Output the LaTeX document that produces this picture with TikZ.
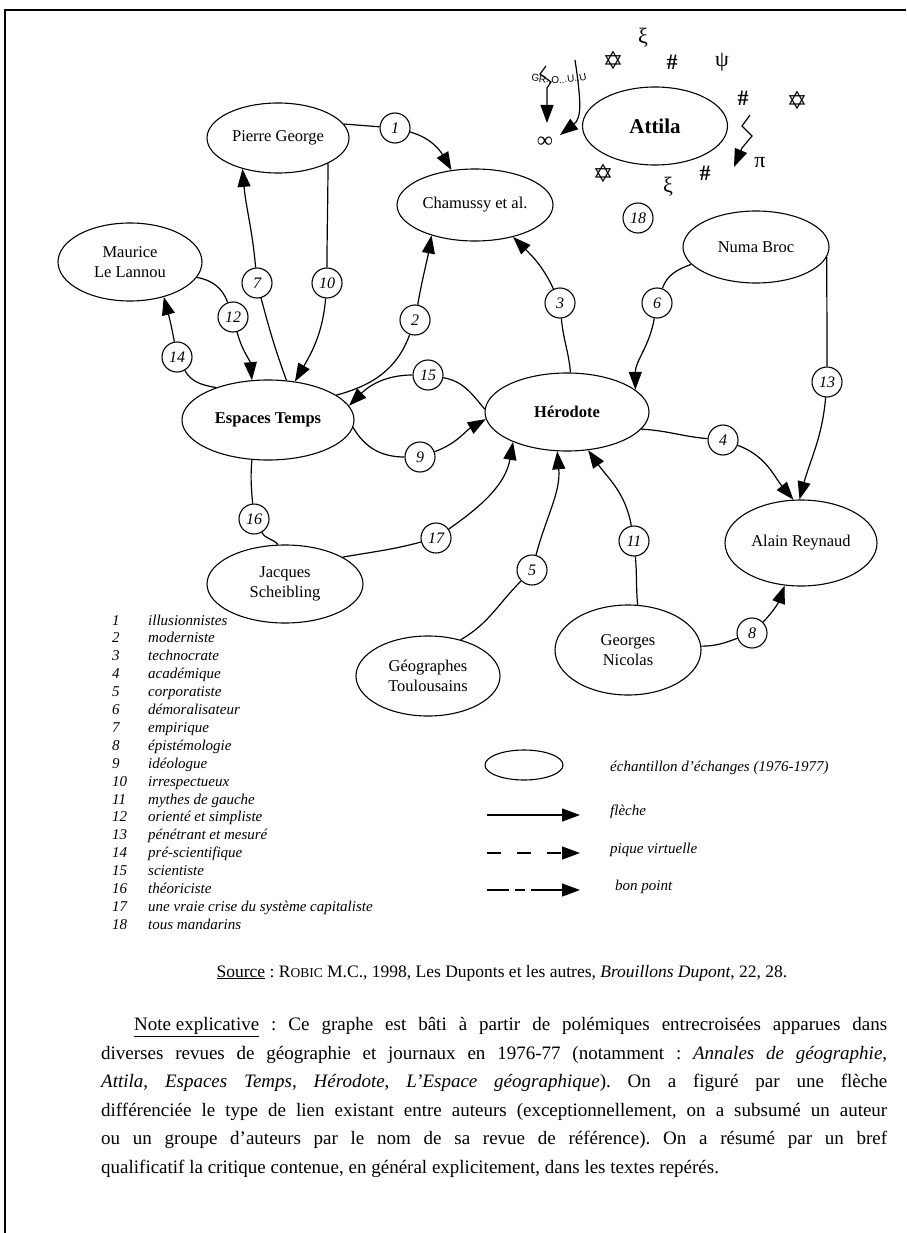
\documentclass[tikz,border=0pt]{standalone}
\usepackage{fontspec}
\setmainfont{Liberation Serif}
\newfontfamily\symfont{DejaVu Sans}
\newfontfamily\grfont{Liberation Sans}
\usetikzlibrary{
  arrows.meta,
  shapes.geometric,
  decorations.text
}
\frenchspacing
\tikzset{
  auteur/.style={
    ellipse,
    draw,
    line width=1.1pt,
    inner sep=0pt,
    align=center,
    font=\fontsize{16.5}{19.5}\selectfont
  },
  revue/.style={
    auteur,
    font=\fontsize{16.5}{19.5}\selectfont\bfseries
  },
  critique/.style={
    circle,
    draw,
    line width=1.1pt,
    minimum size=30pt,
    inner sep=0pt,
    font=\fontsize{16}{16}\selectfont\itshape
  },
  lien/.style={line width=1.2pt},
  symb/.style={inner sep=0pt, font=\fontsize{22}{22}\selectfont},
  legende/.style={
    inner sep=0pt,
    anchor=base west,
    font=\fontsize{15}{17}\selectfont\itshape
  }
}

\begin{document}
\begin{tikzpicture}[
      x=1pt, y=1pt,
      >={Triangle[length=18pt,width=13pt]}
      ]
      \useasboundingbox (0,0) rectangle (906,-1233);
      \draw[line width=2pt] (5,-1233) -- (5,-10) -- (906,-10);

      % auteurs et revues
      \node[auteur, minimum width=142pt, minimum height=70pt] (pg) at (278,-138) {Pierre George};
      \node[auteur, minimum width=156pt, minimum height=72pt] (cham) at (475,-205) {Chamussy et al.};
      \node[auteur, minimum width=144pt, minimum height=78pt] (mll) at (130,-262) {Maurice\\Le Lannou};
      \node[revue, minimum width=172pt, minimum height=80pt] (et) at (268,-420) {Espaces Temps};
      \node[revue, minimum width=164pt, minimum height=78pt] (hero) at (567,-412) {Hérodote};
      \node[auteur, minimum width=146pt, minimum height=72pt] (numa) at (756,-247) {Numa Broc};
      \node[auteur, minimum width=152pt, minimum height=86pt] (alain) at (801,-543) {Alain Reynaud};
      \node[auteur, minimum width=146pt, minimum height=90pt] (gn) at (628,-650) {Georges\\Nicolas};
      \node[auteur, minimum width=156pt, minimum height=78pt] (js) at (285,-584) {Jacques\\Scheibling};
      \node[auteur, minimum width=144pt, minimum height=80pt] (gt) at (428,-676) {Géographes\\Toulousains};
      \node[revue, minimum width=145pt, minimum height=78pt,
        font=\fontsize{21}{21}\selectfont\bfseries] (attila) at (655,-126) {Attila};

      % qualificatifs
      \foreach \n/\x/\y in {1/395/-128, 2/415/-320, 3/560/-303, 4/723/-440,
          5/532/-570, 6/657/-303, 7/257/-283, 8/752/-633, 9/420/-457,
          10/327/-283, 11/634/-541, 12/233/-317, 13/827/-382, 14/177/-357,
          15/428/-375, 16/254/-519, 17/436/-538, 18/638/-218}{
        \node[critique] (c\n) at (\x,\y) {\n};
      }

      \draw[lien] (pg.12) -- (c1);
      \draw[lien,->] (c1) to[out=-15,in=120] (cham.124);
      \draw[lien] (et.20) to[out=15,in=-110] (c2);
      \draw[lien,->] (c2) to[out=80,in=-100] (cham.215);
      \draw[lien] (hero.85) to[out=95,in=-85] (c3);
      \draw[lien,->] (c3) to[out=115,in=-45] (cham.-40);
      \draw[lien] (hero.-13) to[out=-3,in=175] (c4);
      \draw[lien,->] (c4) to[out=-20,in=130] (alain.100);
      \draw[lien] (gt.48) to[out=30,in=-135] (c5);
      \draw[lien,->] (c5) to[out=75,in=-85] (hero.-104);
      \draw[lien] (numa.195) to[out=200,in=70] (c6);
      \draw[lien,->] (c6) to[out=-100,in=90] (hero.18);
      \draw[lien] (et.65) to[out=110,in=-75] (c7);
      \draw[lien,->] (c7) to[out=95,in=-85] (pg.221);
      \draw[lien] (gn.3) to[out=0,in=200] (c8);
      \draw[lien,->] (c8) to[out=45,in=-110] (alain.249);
      \draw[lien] (et.-5) to[out=-60,in=180] (c9);
      \draw[lien,->] (c9) to[out=20,in=-150] (hero.185);
      \draw[lien] (pg.-27) to[out=-90,in=90] (c10);
      \draw[lien,->] (c10) to[out=-95,in=60] (et.55);
      \draw[lien] (gn.78) to[out=95,in=-85] (c11);
      \draw[lien,->] (c11) to[out=100,in=-55] (hero.-61);
      \draw[lien] (mll.-13) to[out=-10,in=110] (c12);
      \draw[lien,->] (c12) to[out=-75,in=95] (et.112);
      \draw[lien] (numa.-8) to[out=-90,in=90] (c13);
      \draw[lien,->] (c13) to[out=-95,in=75] (alain.92);
      \draw[lien] (et.148) to[out=170,in=-60] (c14);
      \draw[lien,->] (c14) to[out=100,in=-75] (mll.-46);
      \draw[lien] (hero.178) to[out=130,in=-10] (c15);
      \draw[lien,->] (c15) to[out=180,in=45] (et.10);
      \draw[lien] (et.-112) to[out=-95,in=95] (c16);
      \draw[lien] (c16) to[out=-60,in=130] (js.100);
      \draw[lien] (js.25) to[out=10,in=-165] (c17);
      \draw[lien,->] (c17) to[out=35,in=-100] (hero.209);

      % autour d'Attila
      \foreach \s/\x/\y [count=\k] in {ξ/643/-38, {\symfont\fontsize{25}{25}\selectfont ✡}/613/-60,
          {\bfseries\#}/672/-62, ψ/722/-62, {\bfseries\#}/743/-98,
          {\symfont\fontsize{25}{25}\selectfont ✡}/797/-100, π/760/-163,
          {\bfseries\#}/705/-173, ξ/668/-187, {\symfont\fontsize{25}{25}\selectfont ✡}/603/-173,
          {\bfseries ∞}/545/-142}{
        \node[symb] (sym\k) at (\x,\y) {\s};
      }
      \coordinate (zza) at (750,-115);
      \coordinate (zzb) at (734,-167);
      \draw[lien,->] (zza) -- ++(-8,-11) -- ++(10,-10) -- ++(-10,-12) -- (zzb);
      \coordinate (gra) at (546,-66);
      \coordinate (grb) at (547,-123);
      \draw[lien,->] (gra) -- (540,-74) -- (551,-82) -- (547,-88) -- (grb);
      \coordinate (cva) at (575,-60);
      \coordinate (cvb) at (560,-135);
      \draw[lien,->] (cva) .. controls (581,-100) and (582,-118) .. (cvb);
      \path[decorate, decoration={text along path, text align=center,
          text={|\grfont\fontsize{10}{10}\selectfont|GR..O...U..U}}]
        (516,-76) .. controls (538,-86) and (578,-86) .. (602,-74);

      % legende
      \foreach \n/\t in {1/illusionnistes, 2/moderniste, 3/technocrate,
          4/académique, 5/corporatiste, 6/démoralisateur, 7/empirique,
          8/épistémologie, 9/idéologue, 10/irrespectueux, 11/mythes de gauche,
          12/orienté et simpliste, 13/pénétrant et mesuré, 14/pré-scientifique,
          15/scientiste, 16/théoriciste,
          17/une vraie crise du système capitaliste, 18/tous mandarins}{
        \node[legende] (num\n) at (112,{-625-17.9*(\n-1)}) {\n};
        \node[legende] (qual\n) at (148,{-625-17.9*(\n-1)}) {\t};
      }

      \node[ellipse, draw, line width=1.1pt, minimum width=78pt, minimum height=30pt,
        inner sep=0pt] (legell) at (524,-765) {};
      \node[legende, font=\fontsize{15}{17}\selectfont\itshape] (leg1) at (610,-771)
        {échantillon d'échanges (1976-1977)};
      \coordinate (fa) at (487,-815);
      \coordinate (fb) at (580,-815);
      \draw[lien,->] (fa) -- (fb);
      \node[legende] (leg2) at (610,-815) {flèche};
      \coordinate (pa) at (487,-853);
      \coordinate (pb) at (580,-853);
      \draw[lien,->,dash pattern=on 14pt off 16pt] (pa) -- (pb);
      \node[legende] (leg3) at (610,-853) {pique virtuelle};
      \coordinate (ba) at (487,-890);
      \coordinate (bb) at (580,-890);
      \draw[lien,->,dash pattern=on 22pt off 6pt on 10pt off 6pt on 60pt] (ba) -- (bb);
      \node[legende] (leg4) at (615,-890) {bon point};

      % source et note
      \node[anchor=base, inner sep=0pt, font=\fontsize{17.5}{20}\selectfont] (source)
        at (502,-977) {\underline{Source} : R{\fontsize{13.5}{13.5}\selectfont OBIC} M.C., 1998,
        Les Duponts et les autres, \textit{Brouillons Dupont}, 22, 28.};
      \node[anchor=north west, inner sep=0pt, text width=786pt, align=justify,
        font=\fontsize{19}{28.6}\selectfont] (note) at (101,-1017)
        {\hspace*{33pt}\underline{Note explicative} : Ce graphe est bâti à partir de
        polémiques entrecroisées apparues dans\linebreak diverses revues de géographie
        et journaux en 1976-77 (notamment : \textit{Annales de géographie},\linebreak
        \textit{Attila}, \textit{Espaces Temps}, \textit{Hérodote}, \textit{L'Espace
        géographique}). On a figuré par une flèche\linebreak différenciée le type de
        lien existant entre auteurs (exceptionnellement, on a subsumé un auteur\linebreak
        ou un groupe d'auteurs par le nom de sa revue de référence). On a résumé par un
        bref\linebreak qualificatif la critique contenue, en général explicitement, dans
        les textes repérés.};
    \end{tikzpicture}
\end{document}
